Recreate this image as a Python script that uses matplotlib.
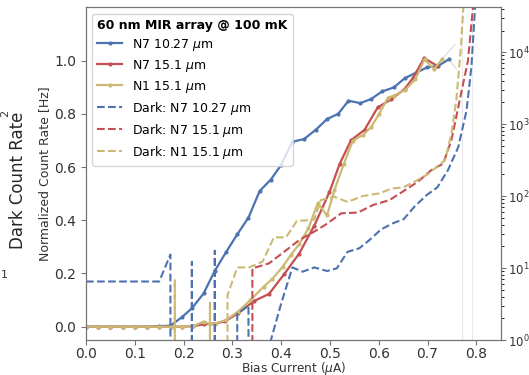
import numpy as np
import matplotlib.pyplot as plt

# -----------------------------
# DATA
# -----------------------------
# normalized count rate, left axis
n7_1027_bias = [0.0, 0.025, 0.05, 0.075, 0.10, 0.125, 0.15, 0.173, 0.196, 0.217, 0.241,
                0.264, 0.287, 0.31, 0.333, 0.356, 0.379, 0.40, 0.423, 0.447, 0.471, 0.494,
                0.517, 0.538, 0.562, 0.584, 0.607, 0.631, 0.653, 0.677, 0.699, 0.722, 0.744]
n7_1027_rate = [0.0, 0.0, 0.0, 0.0, 0.0, 0.0, 0.002, 0.004, 0.035, 0.069, 0.125,
                0.21, 0.28, 0.347, 0.41, 0.51, 0.553, 0.608, 0.695, 0.705, 0.74, 0.78,
                0.80, 0.849, 0.84, 0.855, 0.884, 0.899, 0.933, 0.955, 0.974, 0.98, 1.005]

n7_151_bias = [0.0, 0.025, 0.05, 0.075, 0.10, 0.125, 0.15, 0.175, 0.196, 0.219, 0.241,
               0.264, 0.285, 0.311, 0.345, 0.375, 0.406, 0.437, 0.468, 0.499, 0.52,
               0.543, 0.571, 0.598, 0.626, 0.653, 0.67, 0.693, 0.72]
n7_151_rate = [0.0, 0.0, 0.0, 0.0, 0.0, 0.0, 0.0, 0.0, 0.0, 0.002, 0.009,
               0.012, 0.02, 0.05, 0.097, 0.123, 0.197, 0.275, 0.38, 0.506, 0.612,
               0.70, 0.74, 0.824, 0.855, 0.893, 0.934, 1.009, 0.98]

n1_151_bias = [0.0, 0.025, 0.05, 0.075, 0.10, 0.125, 0.15, 0.175, 0.196, 0.219, 0.241,
               0.254, 0.264, 0.287, 0.311, 0.337, 0.364, 0.382, 0.403, 0.42, 0.437,
               0.456, 0.475, 0.494, 0.509, 0.528, 0.547, 0.567, 0.584, 0.601, 0.619,
               0.631, 0.654, 0.675, 0.694, 0.713, 0.73]
n1_151_rate = [0.0, 0.0, 0.0, 0.0, 0.0, 0.0, 0.0, 0.0, 0.0, 0.002, 0.019,
               0.01, 0.012, 0.025, 0.056, 0.10, 0.15, 0.18, 0.225, 0.27, 0.31,
               0.37, 0.464, 0.418, 0.512, 0.61, 0.699, 0.72, 0.749, 0.80, 0.861,
               0.868, 0.889, 0.93, 1.005, 0.968, 1.005]

# faint tails after latching
tail_bias = [0.73, 0.756, 0.744, 0.759]
tail_rate = [1.005, 1.06, 1.005, 0.968]
latch_bias = [0.77, 0.791]

# dark count rate [Hz], right axis (zeros clip to the bottom)
dark_n7_1027_bias = [0.0, 0.025, 0.05, 0.075, 0.10, 0.125, 0.15, 0.173, 0.196, 0.217,
                     0.241, 0.264, 0.287, 0.31, 0.333, 0.356, 0.379, 0.40, 0.423, 0.444,
                     0.468, 0.494, 0.514, 0.536, 0.56, 0.581, 0.605, 0.629, 0.651, 0.673,
                     0.698, 0.72, 0.742, 0.763, 0.78, 0.79, 0.80]
dark_n7_1027 = [6.5, 6.5, 6.5, 6.5, 6.5, 6.5, 6.5, 15.4, 0, 12.2,
                0, 17.4, 0, 2.3, 3.0, 0, 1.0, 3.2, 10.2, 8.9,
                10.2, 9.1, 9.9, 16.8, 18.8, 24.5, 34.5, 41.9, 47.7, 71,
                103, 132, 230, 480, 1550, 6300, 80000]

dark_n7_151_bias = [0.0, 0.1, 0.2, 0.319, 0.341, 0.375, 0.406, 0.437, 0.464, 0.491,
                    0.523, 0.557, 0.588, 0.622, 0.653, 0.68, 0.708, 0.732, 0.749,
                    0.766, 0.783, 0.797]
dark_n7_151 = [0, 0, 0, 0, 9.9, 11.6, 16.8, 24.5, 31, 40,
               57.6, 59, 75, 88, 120, 158, 230, 282, 600,
               2150, 7700, 80000]

dark_n1_151_bias = [0.0, 0.1, 0.16, 0.182, 0.205, 0.231, 0.254, 0.27, 0.29, 0.31,
                    0.334, 0.362, 0.385, 0.41, 0.432, 0.468, 0.481, 0.509, 0.536,
                    0.567, 0.601, 0.626, 0.65, 0.673, 0.70, 0.736, 0.749, 0.759,
                    0.768, 0.776]
dark_n1_151 = [0, 0, 0, 6.8, 0, 0, 3.3, 0, 4.2, 10.2,
               10.2, 12.3, 26.7, 26.7, 45, 47, 88, 98, 83,
               100, 109, 127, 132, 158, 200, 316, 740, 2150,
               10700, 80000]

blue = "#4C72B0"
red = "#C44E52"
yellow = "#CCB974"

# -----------------------------
# PLOT
# -----------------------------
plt.rcParams["font.size"] = 10

fig = plt.figure(figsize=(5.29, 3.75), dpi=100)
ax = fig.add_axes([0.1626, 0.0933, 0.7839, 0.8872])
ax2 = ax.twinx()

h1, = ax.plot(n7_1027_bias, n7_1027_rate, "-", marker=".", ms=4, lw=1.6, color=blue,
              label=r"N7 10.27 $\mu$m")
h2, = ax.plot(n7_151_bias, n7_151_rate, "-", marker=".", ms=4, lw=1.6, color=red,
              label=r"N7 15.1 $\mu$m")
h3, = ax.plot(n1_151_bias, n1_151_rate, "-", marker=".", ms=4, lw=1.6, color=yellow,
              label=r"N1 15.1 $\mu$m")
ax.plot(tail_bias[:2], tail_rate[:2], "-", lw=1, color="0.6", alpha=0.3)
ax.plot(tail_bias[2:], tail_rate[2:], "-", lw=1, color="0.6", alpha=0.3)
for xb in latch_bias:
    ax.axvline(xb, color="0.85", lw=0.8, alpha=0.6)

d1, = ax2.plot(dark_n7_1027_bias, dark_n7_1027, "--", lw=1.5, color=blue,
               label=r"Dark: N7 10.27 $\mu$m")
d2, = ax2.plot(dark_n7_151_bias, dark_n7_151, "--", lw=1.5, color=red,
               label=r"Dark: N7 15.1 $\mu$m")
d3, = ax2.plot(dark_n1_151_bias, dark_n1_151, "--", lw=1.5, color=yellow,
               label=r"Dark: N1 15.1 $\mu$m")

ax.set_xlim(0, 0.85)
ax.set_ylim(-0.05, 1.2)
ax2.set_yscale("log")
ax2.set_ylim(1, 4.2e4)

ax.set_xticks([0.0, 0.1, 0.2, 0.3, 0.4, 0.5, 0.6, 0.7, 0.8])
ax.set_yticks([0.0, 0.2, 0.4, 0.6, 0.8, 1.0])
ax.set_xlabel(r"Bias Current ($\mu$A)", fontsize=8.7, color="0.2", labelpad=-1)
ax.set_ylabel("Normalized Count Rate [Hz]", fontsize=9, color="0.2", labelpad=2)

for a in (ax, ax2):
    for s in a.spines.values():
        s.set_color("0.45")
    a.tick_params(colors="0.45", labelcolor="0.2", labelsize=10)
ax.tick_params(axis="x", pad=1.5)
ax2.tick_params(axis="y", labelsize=8.5, pad=1.5)

leg = ax2.legend(handles=[h1, h2, h3, d1, d2, d3], loc="upper left",
                 title="60 nm MIR array @ 100 mK", fontsize=9, labelspacing=0.4,
                 title_fontproperties={"weight": "bold", "size": 9},
                 alignment="left", handlelength=2.0)

# pieces of a neighbouring panel cut off at the left edge
fig.text(18 / 529, 1 - 180 / 375, "Dark Count Rate", rotation=90, fontsize=12,
         ha="center", va="center", color="0.15")
fig.text(5 / 529, 1 - 113 / 375, "2", rotation=90, fontsize=8, ha="center", va="center",
         color="0.2")
fig.text(4 / 529, 1 - 275 / 375, "1", fontsize=8, ha="center", va="center", color="0.2")

fig.savefig("out.png", dpi=100)
